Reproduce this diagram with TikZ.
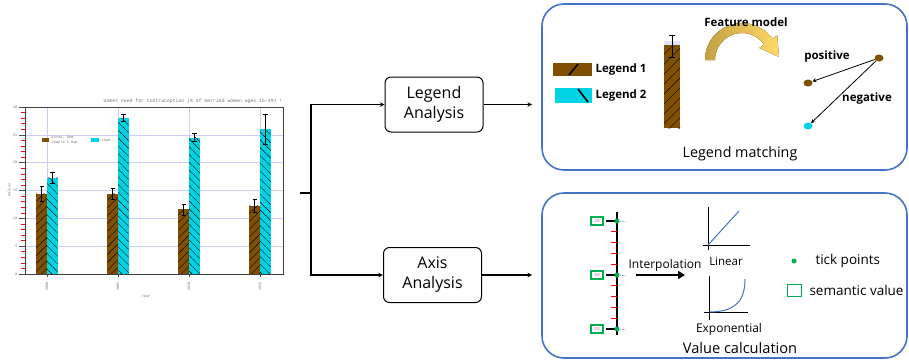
\documentclass[tikz,border=0pt]{standalone}
\usepackage{fontspec}
\setmainfont{Open Sans}
\newfontfamily\chartfont{Liberation Mono}
\usetikzlibrary{patterns.meta,arrows.meta,shapes.geometric,positioning}

\definecolor{barbrown}{RGB}{128,80,0}
\definecolor{barcyan}{RGB}{0,212,228}
\definecolor{frameblue}{RGB}{68,114,196}
\definecolor{tickgreen}{RGB}{0,176,80}
\definecolor{gridblue}{RGB}{205,205,250}
\definecolor{goldA}{RGB}{196,160,64}
\definecolor{goldB}{RGB}{255,217,102}

\tikzset{
  stage/.style={draw, rounded corners=6pt, line width=1pt, minimum width=98pt,
    minimum height=55pt, align=center, font=\fontsize{16}{20}\selectfont},
  panel/.style={draw=frameblue, line width=1.6pt, rounded corners=22pt,
    minimum width=365pt},
  link/.style={line width=1.1pt},
  tag/.style={font=\fontsize{11.5}{13}\selectfont\bfseries},
  chartlabel/.style={font=\chartfont\fontsize{3.6}{4.2}\selectfont, text=black!55, inner sep=0.5pt},
  brownbar/.style={fill=barbrown, postaction={pattern={Lines[angle=45,distance=5.5pt,line width=0.4pt]}}},
  cyanbar/.style={fill=barcyan, postaction={pattern={Lines[angle=-45,distance=5.5pt,line width=0.4pt]}}},
  dot/.style={ellipse, minimum width=9pt, minimum height=7pt, inner sep=0pt},
  tickdot/.style={circle, fill=tickgreen, minimum size=5pt, inner sep=0pt},
  valbox/.style={rectangle, draw=tickgreen, line width=1.4pt, minimum width=12pt, minimum height=8pt,
    inner sep=0.5pt, text=gray, font=\chartfont\fontsize{4.5}{5}\selectfont},
}

\begin{document}
\begin{tikzpicture}[x=1pt, y=-1pt, >=stealth]
\useasboundingbox (0,0) rectangle (909,362);

% bar chart
\node[chartlabel, font=\chartfont\fontsize{4.8}{5}\selectfont, anchor=south east] (title)
  at (283,104) {Unmet need for contraception (\% of married women ages 15-49) !};
\node[chartlabel, rotate=90] (ylabel) at (9,190) {Values};
\node[chartlabel] (xlabel) at (146,296) {Year};

\begin{scope}[shift={(0,274)}, y=5.567pt]
  \foreach \v in {5,10,...,25}
    \draw[gridblue, line width=0.4pt] (25,\v) -- (283,\v);
  \foreach \c in {47,118,189,260}
    \draw[gridblue, line width=0.4pt] (\c,0) -- (\c,30);
  \foreach \v in {1,...,29}
    \draw[red, line width=0.5pt] (21,\v) -- (25,\v);
  \foreach \v in {0,5,...,30}{
    \draw[black!70, line width=0.6pt] (19,\v) -- (25,\v);
    \node[chartlabel, anchor=east] (ytick-\v) at (18,\v) {\v};
  }

  \foreach \c/\b/\eb/\k/\ek/\yr [count=\i] in {47/14.4/1.3/17.3/1.0/2000,
      118/14.4/1.0/28.0/0.6/2005, 189/11.6/1.0/24.5/0.75/2010, 260/12.3/1.2/26.0/2.7/2015}{
    \path[brownbar] (\c-10.7,0) rectangle (\c,\b);
    \path[cyanbar] (\c,0) rectangle (\c+10.7,\k);
    \draw[line width=0.6pt] (\c-5.35,\b-\eb) -- (\c-5.35,\b+\eb)
      (\c-7.5,\b-\eb) -- (\c-3.2,\b-\eb) (\c-7.5,\b+\eb) -- (\c-3.2,\b+\eb);
    \draw[line width=0.6pt] (\c+5.35,\k-\ek) -- (\c+5.35,\k+\ek)
      (\c+3.2,\k-\ek) -- (\c+7.5,\k-\ek) (\c+3.2,\k+\ek) -- (\c+7.5,\k+\ek);
    \draw[black!70, line width=0.6pt] (\c,0) -- (\c,-0.6);
    \node[chartlabel, rotate=90, anchor=east] (xtick-\i) at (\c,-1.3) {\yr};
  }
  \draw[black!75, line width=0.7pt] (25,0) rectangle (283,30);

  % legend of the chart
  \fill[barbrown] (42,23.8) rectangle (49,24.35);
  \node[chartlabel, anchor=west, align=left] (key-korea) at (51,24.05) {Korea, Dem.\\People's Rep.};
  \fill[barcyan] (91,23.8) rectangle (99,24.35);
  \node[chartlabel, anchor=west] (key-chad) at (101,24.05) {Chad};
\end{scope}

% analysis stages
\node[stage] (legend) at (434,104.5) {Legend\\Analysis};
\node[stage] (axis) at (432.5,275) {Axis\\Analysis};

\node[panel, minimum height=166pt] (matching) at (724.5,87) {};
\node[panel, minimum height=165pt] (calculation) at (724.5,275.5) {};

\coordinate (start) at (300,193);
\coordinate (split) at (311,193);
\draw[link] (start) -- (split);
\draw[link, ->] (split) |- (legend.west);
\draw[link, ->] (split) |- (axis.west);
\draw[link, ->, shorten >=9pt] (legend.east) -- (legend.east -| matching.west);
\draw[link, ->, shorten >=9pt] (axis.east) -- (axis.east -| calculation.west);

% legend matching
\fill[barbrown] (553,63) rectangle (592,76);
\draw[line width=1.6pt] (569,75) -- (578,64);
\node[tag, anchor=west] (legend-1) at (592,70) {Legend 1};
\fill[barcyan] (555,88) rectangle (592,103);
\draw[line width=1.6pt] (578,89) -- (588,102);
\node[tag, anchor=west] (legend-2) at (592,95.5) {Legend 2};

\fill[gridblue!60] (664,41) rectangle (680,45);
\path[fill=barbrown, postaction={pattern={Lines[angle=45,distance=7pt,line width=0.4pt]}}]
  (664,45) rectangle (680,128);
\draw[line width=0.8pt] (672,35) -- (672,57) (669,35) -- (675,35) (669,57) -- (675,57);

\fill[left color=goldA, right color=goldB]
  plot[domain=180:35, samples=40] ({742+37*cos(\x)}, {60-37*sin(\x)})
  -- ({742+43*cos(35)}, {60-43*sin(35)})
  -- (779,57)
  -- ({742+21*cos(35)}, {60-21*sin(35)})
  -- plot[domain=35:180, samples=40] ({742+27*cos(\x)}, {60-27*sin(\x)})
  -- cycle;
\node[tag] (feature) at (746,22) {Feature model};

\node[dot, fill=barbrown] (query) at (879,58) {};
\node[dot, fill=barbrown] (pos-dot) at (808,83) {};
\node[dot, fill=barcyan] (neg-dot) at (808,126) {};
\draw[->, line width=0.8pt] (query) -- (pos-dot);
\draw[->, line width=0.8pt] (query) -- (neg-dot);
\node[tag] (positive) at (827,57) {positive};
\node[tag] (negative) at (867,99) {negative};
\node[font=\fontsize{14.3}{16}\selectfont] (matching-title) at (740,154) {Legend matching};

% value calculation
\draw[line width=1.1pt] (617,212) -- (617,335);
\foreach \k in {1,...,4}{
  \draw[red, line width=1.3pt] (611,221+10.8*\k) -- (617,221+10.8*\k);
  \draw[red, line width=1.3pt] (611,275+10.8*\k) -- (617,275+10.8*\k);
}
\foreach \y/\v in {221/25, 275/20, 329/15}{
  \draw[line width=1.1pt] (606,\y) -- (617,\y);
  \draw[gridblue!80!blue, densely dotted, line width=0.5pt] (620,\y) -- (625,\y);
  \node[valbox] (val-\v) at (597,\y) {\v};
  \node[tickdot] (tick-\v) at (617,\y) {};
}

\node[font=\fontsize{12}{14}\selectfont] (interp) at (665,265) {Interpolation};
\coordinate (interp-from) at (636,275);
\coordinate (interp-to) at (685,275);
\draw[line width=2.2pt, -{Triangle[length=7pt,width=8pt]}] (interp-from) -- (interp-to);

\draw[line width=1pt] (708,207) -- (708,250) (703,245) -- (750,245);
\draw[frameblue, line width=1pt] (708,245) -- (739,211);
\node[font=\fontsize{11.5}{13}\selectfont] (linear) at (726,261) {Linear};

\draw[line width=1pt] (709,276) -- (709,320) (704,312) -- (748,312);
\draw[frameblue, line width=1pt] (709,312) .. controls (736,312) and (745,300) .. (745,279);
\node[font=\fontsize{12}{14}\selectfont] (expo) at (729,329) {Exponential};

\node[font=\fontsize{14.6}{16}\selectfont] (calc-title) at (740,348) {Value calculation};

\node[tickdot] (key-dot) at (794,261) {};
\node[anchor=west, font=\fontsize{13.5}{15}\selectfont] (key-dot-text) at (812,261) {tick points};
\node[draw=tickgreen, line width=1pt, minimum width=14pt, minimum height=12pt, inner sep=0pt]
  (key-box) at (794,290) {};
\node[anchor=west, font=\fontsize{13.5}{15}\selectfont] (key-box-text) at (806,290) {semantic value};

\end{tikzpicture}
\end{document}
